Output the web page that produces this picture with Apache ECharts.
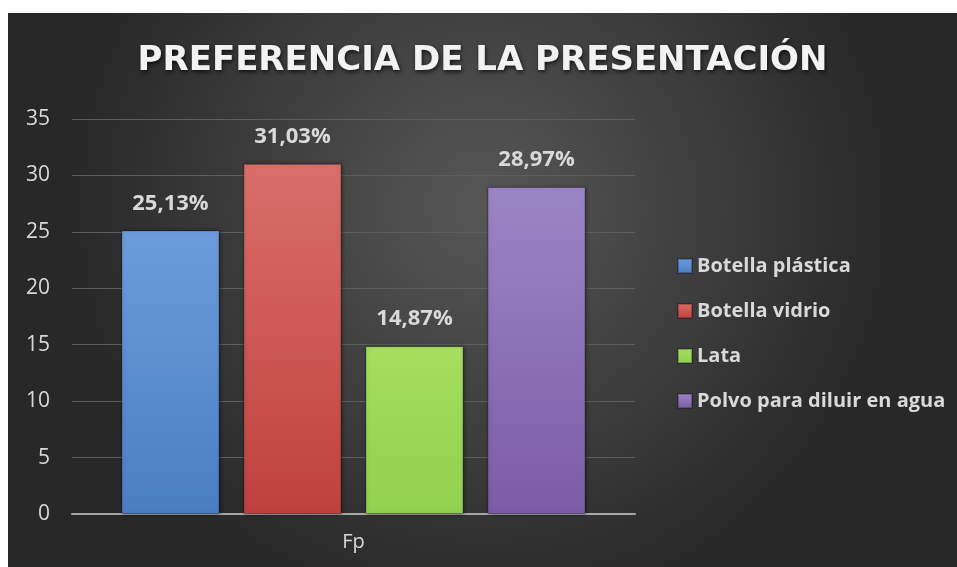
<!DOCTYPE html>
<html>
<head>
<meta charset="utf-8">
<style>
  html, body { margin: 0; padding: 0; background: #fff; }
  #chart { position: absolute; left: 8px; top: 13px; width: 949px; height: 554px; }
</style>
<script src="https://cdn.jsdelivr.net/npm/echarts@6/dist/echarts.min.js"></script>
</head>
<body>
<div id="chart"></div>
<script>
(function () {
    'use strict';

    var CATEGORIES = ['Fp'];
    var SERIES_NAMES = ['Botella plástica', 'Botella vidrio', 'Lata', 'Polvo para diluir en agua'];
    var VALUES = [25.13, 31.03, 14.87, 28.97];
    var Y_TICKS = [0, 35, 5]; // min, max, interval

    // top / bottom colours of each bar's gradient
    var COLORS = [
        ['#6c9cdc', '#4a7ec3'],
        ['#d96e6a', '#c0413e'],
        ['#a6de5e', '#92d050'],
        ['#9b86c5', '#7b5ca6']
    ];

    function fmt(v) {
        return v.toFixed(2).replace('.', ',') + '%';
    }

    var chart = echarts.init(document.getElementById('chart'));

    var series = SERIES_NAMES.map(function (name, i) {
        return {
            name: name,
            type: 'bar',
            data: [VALUES[i]],
            barWidth: 98,
            barGap: '24.5%',
            itemStyle: {
                color: new echarts.graphic.LinearGradient(0, 0, 0, 1, [
                    { offset: 0, color: COLORS[i][0] },
                    { offset: 1, color: COLORS[i][1] }
                ]),
                borderColor: 'rgba(0,0,0,0.25)',
                borderWidth: 1,
                shadowColor: 'rgba(0,0,0,0.45)',
                shadowBlur: 4,
                shadowOffsetX: 1
            },
            label: {
                show: true,
                position: 'top',
                distance: 16,
                color: '#d9d9d9',
                fontFamily: 'Open Sans',
                fontWeight: 'bold',
                fontSize: 22,
                formatter: function (p) { return fmt(p.value); }
            }
        };
    });

    chart.setOption({
        backgroundColor: new echarts.graphic.RadialGradient(0.5, 0.35, 0.75, [
            { offset: 0, color: '#575757' },
            { offset: 1, color: '#282828' }
        ]),
        animation: false,
        title: {
            text: 'PREFERENCIA DE LA PRESENTACIÓN',
            left: 'center',
            top: 26,
            textStyle: {
                color: '#f2f2f2',
                fontFamily: 'DejaVu Sans',
                fontWeight: 'bold',
                fontSize: 34,
                textShadowColor: 'rgba(0,0,0,0.7)',
                textShadowBlur: 4,
                textShadowOffsetX: 1,
                textShadowOffsetY: 2
            }
        },
        legend: {
            orient: 'vertical',
            left: 669,
            top: 243,
            padding: 0,
            itemWidth: 14,
            itemHeight: 14,
            itemGap: 25,
            icon: 'rect',
            textStyle: {
                color: '#d9d9d9',
                fontFamily: 'Open Sans',
                fontWeight: 'bold',
                fontSize: 20,
                lineHeight: 20
            },
            data: SERIES_NAMES
        },
        grid: { left: 64, right: 322, top: 106, bottom: 53 },
        xAxis: {
            type: 'category',
            data: CATEGORIES,
            axisLine: { lineStyle: { color: '#a6a6a6', width: 2 } },
            axisTick: { show: false },
            axisLabel: {
                color: '#d9d9d9',
                fontFamily: 'Open Sans',
                fontSize: 20,
                margin: 18
            }
        },
        yAxis: {
            type: 'value',
            min: Y_TICKS[0],
            max: Y_TICKS[1],
            interval: Y_TICKS[2],
            axisLine: { show: false },
            axisTick: { show: false },
            splitLine: { lineStyle: { color: '#5e5e5e', width: 1 } },
            axisLabel: {
                color: '#d9d9d9',
                fontFamily: 'Open Sans',
                fontSize: 21,
                margin: 22
            }
        },
        series: series
    });
})();
</script>
</body>
</html>
